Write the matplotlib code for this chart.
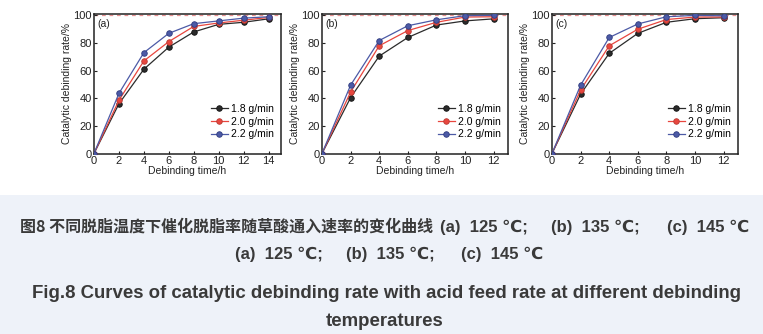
import matplotlib
matplotlib.use("Agg")
import matplotlib.pyplot as plt
from matplotlib.patches import Rectangle

plt.rcParams['font.family'] = ['Liberation Sans', 'DejaVu Sans']

# ---- data ----
time_a = [0, 2, 4, 6, 8, 10, 12, 14]
time_bc = [0, 2, 4, 6, 8, 10, 12]
labels = ['1.8 g/min', '2.0 g/min', '2.2 g/min']

a_18 = [0, 36, 61, 77, 88, 93.5, 95, 97.5]
a_20 = [0, 38.5, 67, 81, 92, 94.5, 96.5, 98.5]
a_22 = [0, 43.5, 73, 87, 94, 96, 98, 99]

b_18 = [0, 40.5, 70.5, 84, 93, 96, 97.5]
b_20 = [0, 44.5, 78, 89, 95, 98.8, 99]
b_22 = [0, 49.5, 81.8, 92.5, 96.8, 99.8, 100]

c_18 = [0, 43, 72.5, 87, 95, 97.6, 98.3]
c_20 = [0, 46, 78, 90, 97, 98.8, 98.8]
c_22 = [0, 49.5, 84, 93.8, 99, 100, 99.7]

panel_tags = ['(a)', '(b)', '(c)']
xticks_a = [0, 2, 4, 6, 8, 10, 12, 14]
xticks_bc = [0, 2, 4, 6, 8, 10, 12]
yticks = [0, 20, 40, 60, 80, 100]

caption_cn = '图8 不同脱脂温度下催化脱脂率随草酸通入速率的变化曲线'
caption_parts = ['(a)  125 ℃;', '(b)  135 ℃;', '(c)  145 ℃']
caption_en1 = 'Fig.8 Curves of catalytic debinding rate with acid feed rate at different debinding'
caption_en2 = 'temperatures'

colors = ['#2b2b2b', '#e8463e', '#4c5aa6']
edge = ['#111111', '#b83a33', '#2f3b80']

W, H = 763, 334
fig = plt.figure(figsize=(W / 100, H / 100), dpi=100)

# caption band
fig.patches.append(Rectangle((0, 0), 1, (H - 195) / H, transform=fig.transFigure,
                             facecolor='#eef2f9', edgecolor='none', zorder=0))

panels = [
    (94, 281, time_a, [a_18, a_20, a_22], xticks_a, 15),
    (322, 508, time_bc, [b_18, b_20, b_22], xticks_bc, 13),
    (552, 738, time_bc, [c_18, c_20, c_22], xticks_bc, 13),
]
top, bot = 14, 153.5
for i, (l, r, t, series, xt, xmax) in enumerate(panels):
    ax = fig.add_axes([l / W, 1 - bot / H, (r - l) / W, (bot - top) / H])
    ax.axhline(100, color='#e89090', lw=0.9, ls=(0, (3, 3)), zorder=1)
    for s, lab, c, e in zip(series, labels, colors, edge):
        ax.plot(t, s, '-o', color=c, lw=0.9, ms=4, mfc=c, mec=e, mew=0.6,
                label=lab, zorder=3)
    ax.set_xlim(0, xmax)
    ax.set_ylim(0, 101)
    ax.set_xticks(xt)
    ax.set_yticks(yticks)
    ax.tick_params(direction='in', length=2.5, width=0.8, labelsize=8,
                   pad=1.5, colors='#222222')
    for sp in ax.spines.values():
        sp.set_linewidth(1.1)
        sp.set_color('#222222')
    ax.set_xlabel('Debinding time/h', fontsize=7.5, labelpad=0.5, color='#222222')
    ax.set_ylabel('Catalytic debinding rate/%', fontsize=7.5, labelpad=1, color='#222222')
    ax.text(0.02, 0.965, panel_tags[i], transform=ax.transAxes, fontsize=7.5,
            va='top', ha='left', color='#222222')
    ax.legend(loc='lower right', frameon=False, fontsize=7.5, handlelength=1.6,
              handletextpad=0.3, labelspacing=0.25, borderaxespad=0.3,
              bbox_to_anchor=(1.0, 0.05))

cap_font = ['Noto Sans CJK SC', 'DejaVu Sans']
lat_font = ['Liberation Sans', 'DejaVu Sans']
cap_col = '#3a3a3a'
y1 = 1 - 227 / H
y2 = 1 - 254 / H
fig.text(20 / W, y1, caption_cn, ha='left', va='center', fontsize=11.5,
         fontweight='bold', family=cap_font, color=cap_col)
for x, part in zip([440, 551, 667], caption_parts):
    fig.text(x / W, y1, part, ha='left', va='center', fontsize=12,
             fontweight='bold', family=lat_font, color=cap_col)
for x, part in zip([235, 346, 461], caption_parts):
    fig.text(x / W, y2, part, ha='left', va='center', fontsize=12,
             fontweight='bold', family=lat_font, color=cap_col)
fig.text(0.5 * (28 + 744) / W, 1 - 294 / H, caption_en1, ha='center', va='center',
         fontsize=13.4, fontweight='bold', family=lat_font, color=cap_col)
fig.text(0.5 * (326 + 444) / W, 1 - 322 / H, caption_en2, ha='center', va='center',
         fontsize=13.4, fontweight='bold', family=lat_font, color=cap_col)

fig.savefig('out.png', dpi=100, facecolor='white')
